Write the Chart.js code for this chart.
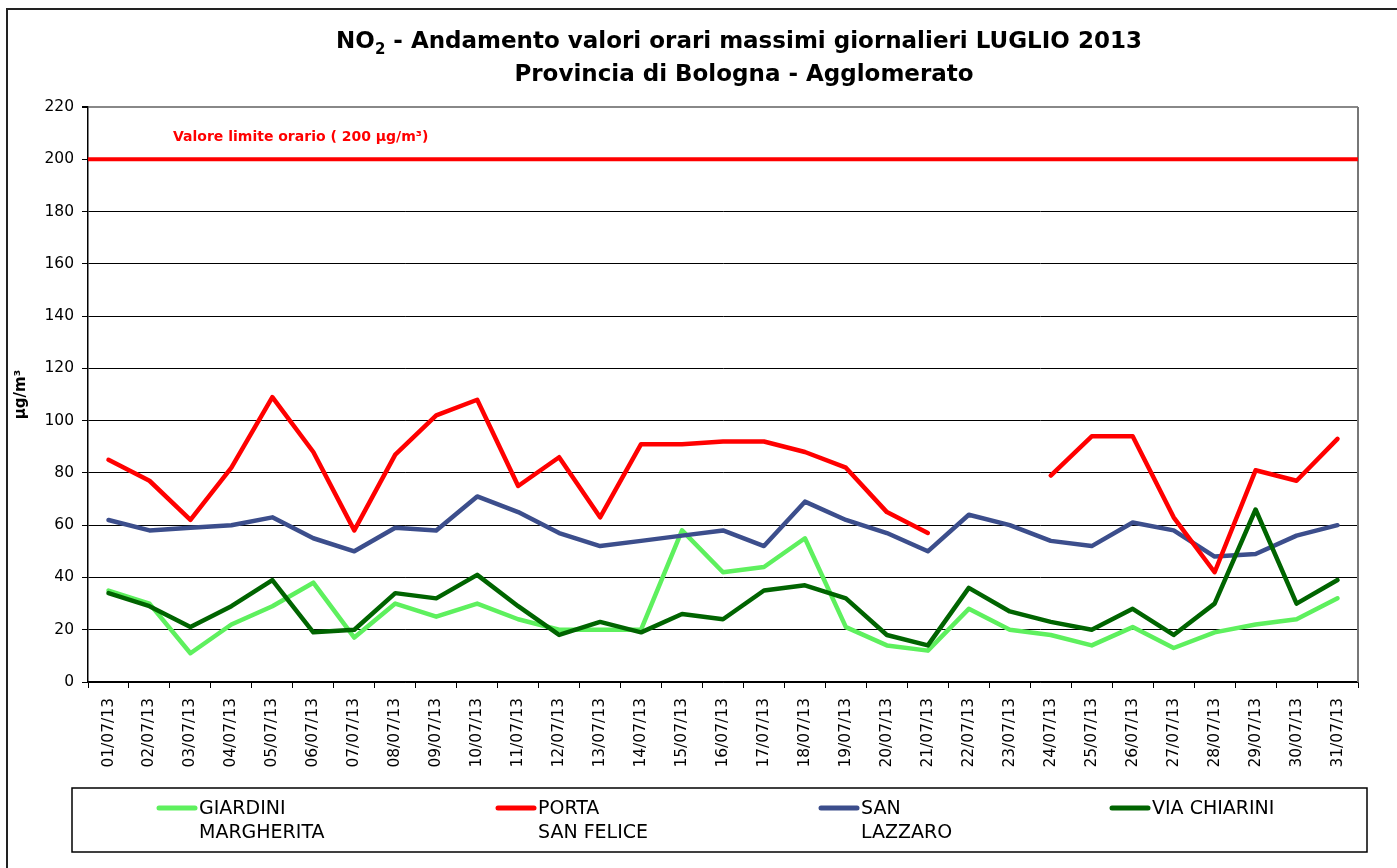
<!DOCTYPE html>
<html>
<head>
<meta charset="utf-8">
<script src="https://cdn.jsdelivr.net/npm/chart.js@4/dist/chart.umd.min.js"></script>
<style>
  html, body { margin: 0; padding: 0; background: #fff; overflow: hidden; }
  #wrap { position: relative; width: 1397px; height: 868px; }
</style>
</head>
<body>
<div id="wrap"><canvas id="c" width="1397" height="868"></canvas></div>
<script>
const days = ['01/07/13','02/07/13','03/07/13','04/07/13','05/07/13','06/07/13','07/07/13','08/07/13','09/07/13','10/07/13','11/07/13','12/07/13','13/07/13','14/07/13','15/07/13','16/07/13','17/07/13','18/07/13','19/07/13','20/07/13','21/07/13','22/07/13','23/07/13','24/07/13','25/07/13','26/07/13','27/07/13','28/07/13','29/07/13','30/07/13','31/07/13'];

const giardiniMargherita = [35,30,11,22,29,38,17,30,25,30,24,20,20,20,58,42,44,55,21,14,12,28,20,18,14,21,13,19,22,24,32];
const portaSanFelice = [85,77,62,82,109,88,58,87,102,108,75,86,63,91,91,92,92,88,82,65,57,null,null,79,94,94,63,42,81,77,93];
const sanLazzaro = [62,58,59,60,63,55,50,59,58,71,65,57,52,54,56,58,52,69,62,57,50,64,60,54,52,61,58,48,49,56,60];
const viaChiarini = [34,29,21,29,39,19,20,34,32,41,29,18,23,19,26,24,35,37,32,18,14,36,27,23,20,28,18,30,66,30,39];

const seriesNames = [['GIARDINI','MARGHERITA'], ['PORTA','SAN FELICE'], ['SAN','LAZZARO'], ['VIA CHIARINI']];
const limitValue = 200;
const limitLabel = 'Valore limite orario ( 200 µg/m³)';
const yTicks = [0,20,40,60,80,100,120,140,160,180,200,220];
const titleLine1 = ['NO', '2', ' - Andamento valori orari massimi giornalieri LUGLIO 2013'];
const titleLine2 = 'Provincia di Bologna - Agglomerato';
const yTitle = 'µg/m³';

const FONT = '"DejaVu Sans", "Liberation Sans", Arial, sans-serif';

const colors = ['#5EF05E', '#FF0000', '#3C4E8C', '#006400'];
const orders = [4, 2, 3, 1];

const decorPlugin = {
  id: 'decor',
  beforeDraw(chart) {
    const ctx = chart.ctx;
    ctx.save();
    ctx.fillStyle = '#fff';
    ctx.fillRect(0, 0, chart.width, chart.height);
    ctx.strokeStyle = '#222';
    ctx.lineWidth = 2;
    ctx.strokeRect(7, 9, 1600, 1000);
    ctx.restore();
  },
  afterDatasetsDraw(chart) {
    const ctx = chart.ctx;
    const ca = chart.chartArea;
    const y = chart.scales.y.getPixelForValue(limitValue);
    ctx.save();
    ctx.strokeStyle = '#777';
    ctx.lineWidth = 2;
    ctx.beginPath();
    ctx.moveTo(ca.right, ca.top);
    ctx.lineTo(ca.right, ca.bottom);
    ctx.stroke();
    ctx.strokeStyle = '#FF0000';
    ctx.lineWidth = 4;
    ctx.beginPath();
    ctx.moveTo(ca.left, y);
    ctx.lineTo(ca.right, y);
    ctx.stroke();
    ctx.fillStyle = '#FF0000';
    ctx.font = 'bold 14px ' + FONT;
    ctx.textBaseline = 'middle';
    ctx.textAlign = 'left';
    ctx.fillText(limitLabel, 173, y - 22);
    ctx.restore();
  },
  afterDraw(chart) {
    const ctx = chart.ctx;
    ctx.save();
    ctx.fillStyle = '#000';
    ctx.textBaseline = 'alphabetic';
    const big = 'bold 23px ' + FONT;
    const small = 'bold 15px ' + FONT;
    ctx.font = big;
    const w0 = ctx.measureText(titleLine1[0]).width;
    const w2 = ctx.measureText(titleLine1[2]).width;
    ctx.font = small;
    const w1 = ctx.measureText(titleLine1[1]).width;
    const total = w0 + w1 + w2;
    let x = 739 - total / 2;
    const base1 = 48;
    ctx.font = big;
    ctx.fillText(titleLine1[0], x, base1);
    x += w0;
    ctx.font = small;
    ctx.fillText(titleLine1[1], x, base1 + 6);
    x += w1;
    ctx.font = big;
    ctx.fillText(titleLine1[2], x, base1);
    ctx.textAlign = 'center';
    ctx.fillText(titleLine2, 744, 81);

    ctx.strokeStyle = '#000';
    ctx.lineWidth = 1.5;
    ctx.strokeRect(72, 788, 1295, 64);
    const itemX = [157, 496, 819, 1110];
    ctx.font = '19px ' + FONT;
    ctx.textAlign = 'left';
    ctx.textBaseline = 'middle';
    chart.data.datasets.forEach((ds, i) => {
      const lx = itemX[i];
      ctx.strokeStyle = ds.borderColor;
      ctx.lineWidth = 5;
      ctx.lineCap = 'round';
      ctx.beginPath();
      ctx.moveTo(lx + 2, 808);
      ctx.lineTo(lx + 38, 808);
      ctx.stroke();
      ctx.fillStyle = '#000';
      ds.label.forEach((t, j) => ctx.fillText(t, lx + 42, 809 + j * 24));
    });
    ctx.restore();
  }
};

const datasets = [giardiniMargherita, portaSanFelice, sanLazzaro, viaChiarini].map((d, i) => ({
  label: seriesNames[i],
  data: d,
  borderColor: colors[i],
  backgroundColor: colors[i],
  borderWidth: 4.5,
  pointRadius: 0,
  pointHoverRadius: 0,
  tension: 0,
  spanGaps: false,
  borderCapStyle: 'round',
  borderJoinStyle: 'round',
  order: orders[i],
  fill: false
}));

new Chart(document.getElementById('c'), {
  type: 'line',
  data: { labels: days, datasets },
  options: {
    responsive: false,
    animation: false,
    devicePixelRatio: 1,
    layout: { padding: { top: 107, left: 0, right: 39, bottom: 86 } },
    plugins: {
      legend: { display: false },
      title: { display: false },
      tooltip: { enabled: false }
    },
    scales: {
      x: {
        offset: true,
        grid: { display: true, drawOnChartArea: false, offset: true, tickLength: 6, tickColor: '#000', color: '#000' },
        border: { display: true, color: '#000', width: 1.5 },
        ticks: { minRotation: 90, maxRotation: 90, autoSkip: false, padding: 10, color: '#000', font: { family: FONT, size: 15.5 } },
        afterFit(s) { s.height = 100; }
      },
      y: {
        min: 0, max: 220,
        afterBuildTicks(s) { s.ticks = yTicks.map(v => ({ value: v })); },
        grid: {
          color: ctx => (ctx.tick && ctx.tick.value === 220) ? '#888' : '#000',
          lineWidth: ctx => (ctx.tick && ctx.tick.value === 220) ? 2 : 1,
          tickLength: 6, tickColor: '#000'
        },
        border: { display: true, color: '#000', width: 1.5 },
        ticks: { padding: 8, color: '#000', font: { family: FONT, size: 15.5 } },
        title: { display: true, text: yTitle, color: '#000', font: { family: FONT, size: 15, weight: 'bold' }, padding: { top: 12, bottom: 0 } },
        afterFit(s) { s.width = 88; }
      }
    }
  },
  plugins: [decorPlugin]
});
</script>
</body>
</html>
